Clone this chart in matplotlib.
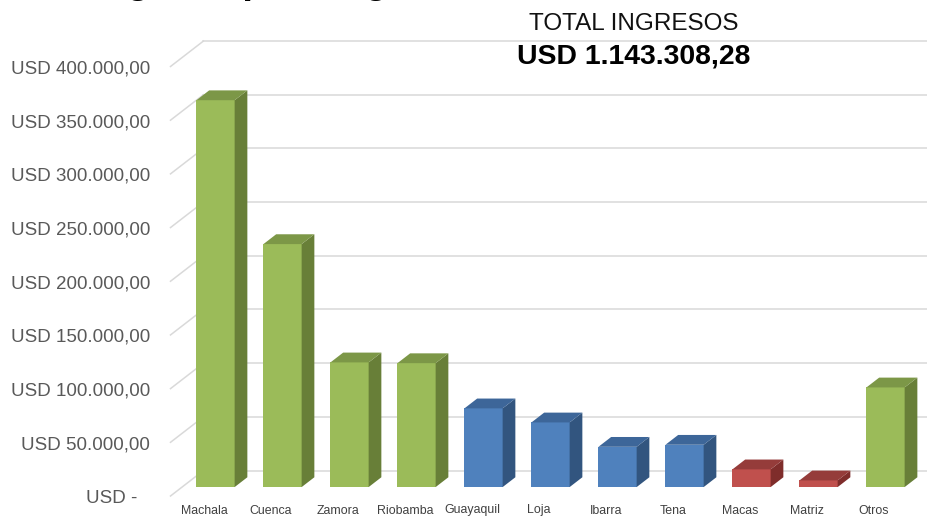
import matplotlib
matplotlib.use("Agg")
import matplotlib.pyplot as plt
from matplotlib.patches import Polygon, Rectangle

plt.rcParams['font.family'] = ['Liberation Sans', 'DejaVu Sans']

# datos
agencias = ["Machala", "Cuenca", "Zamora", "Riobamba", "Guayaquil", "Loja",
            "Ibarra", "Tena", "Macas", "Matriz", "Otros"]
ingresos = [360300, 226300, 116100, 115400, 73300, 60200,
            37500, 39400, 16500, 6200, 92800]
grupo = ["verde", "verde", "verde", "verde", "azul", "azul",
         "azul", "azul", "rojo", "rojo", "verde"]
marcas_y = [0, 50000, 100000, 150000, 200000, 250000, 300000, 350000, 400000]
etiquetas_y = ["USD -", "USD 50.000,00", "USD 100.000,00", "USD 150.000,00",
               "USD 200.000,00", "USD 250.000,00", "USD 300.000,00",
               "USD 350.000,00", "USD 400.000,00"]
total_txt = "USD 1.143.308,28"

# colores de cara frontal, lateral y superior
colores = {
    "verde": ("#9BBB59", "#687F38", "#7C9747"),
    "azul": ("#4F81BD", "#32557F", "#3D6699"),
    "rojo": ("#C0504D", "#7F2D2B", "#953C3A"),
}

W, H = 928, 516
fig = plt.figure(figsize=(W / 100, H / 100), dpi=100)
ax = fig.add_axes([170.5 / W, 20 / H, 737 / W, 429.5 / H])
ax.set_xlim(-0.5, 10.5)
ax.set_ylim(0, 400000)
ax.axis('off')

# profundidad del efecto 3D en unidades de datos
px_x = 737 / 11.0
px_y = 429.5 / 400000
DX = 33 / px_x
DY = 25.5 / px_y

# lineas de cuadricula (pared del fondo y diagonales)
grid_c = "#D9D9D9"
for v in marcas_y:
    ax.plot([-0.5, -0.5 + DX], [v, v + DY], color=grid_c, lw=1.1,
            clip_on=False, zorder=1)
    ax.plot([-0.5 + DX, 10.5 + DX], [v + DY, v + DY], color=grid_c, lw=1.1,
            clip_on=False, zorder=1)

# barras 3D
ancho = 0.57
d1, d2 = 0.35, 0.735
for i, (val, g) in enumerate(zip(ingresos, grupo)):
    frente, lado, arriba = colores[g]
    x0 = i - ancho / 2 + d1 * DX
    x1 = x0 + ancho
    y0 = d1 * DY
    ox = (d2 - d1) * DX
    oy = (d2 - d1) * DY
    ax.add_patch(Rectangle((x0, y0), ancho, val, facecolor=frente,
                           edgecolor="none", zorder=3, clip_on=False))
    ax.add_patch(Polygon([(x1, y0), (x1, y0 + val), (x1 + ox, y0 + val + oy),
                          (x1 + ox, y0 + oy)], closed=True, facecolor=lado,
                         edgecolor="none", zorder=3, clip_on=False))
    ax.add_patch(Polygon([(x0, y0 + val), (x1, y0 + val),
                          (x1 + ox, y0 + val + oy), (x0 + ox, y0 + val + oy)],
                         closed=True, facecolor=arriba, edgecolor="none",
                         zorder=3, clip_on=False))

# etiquetas del eje y
for v, lab in zip(marcas_y, etiquetas_y):
    gap = 33.5 if v == 0 else 20.5
    ax.text(-0.5 - gap / px_x, v - 2.5 / px_y, lab, ha='right', va='center',
            fontsize=13.5, color="#595959", clip_on=False)

# etiquetas de categorias (misma linea base para todas)
for i, nombre in enumerate(agencias):
    ax.text(i, -17.5 / px_y, nombre, ha='center', va='baseline', fontsize=8.9,
            color="#404040", clip_on=False)

# titulos (el principal queda cortado arriba, como en el original)
fig.text(92 / W, 1 + 7 / H, "Ingreso por Regional", fontsize=27.8,
         weight='bold', va='baseline', ha='left', color="black")
fig.text(634 / W, 1 - 24 / H, "TOTAL INGRESOS", ha='center', va='center',
         fontsize=17.5, color="#111111")
fig.text(634 / W, 1 - 57 / H, total_txt, ha='center', va='center',
         fontsize=20.4, weight='bold', color="black")

fig.savefig("out.png", dpi=100)
